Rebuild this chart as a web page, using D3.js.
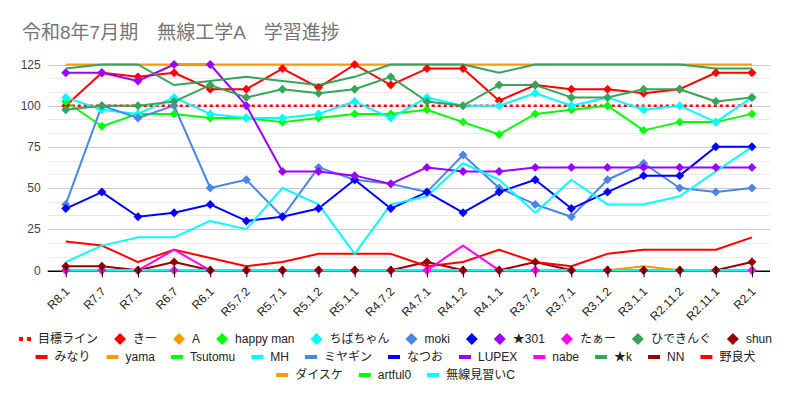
<!DOCTYPE html>
<html>
<head>
<meta charset="utf-8">
<script src="https://cdn.jsdelivr.net/npm/d3@7"></script>
<style>
    body { margin: 0; background: #fff; }
    svg { display: block; font-family: Arial, "Liberation Sans", "Noto Sans CJK JP", sans-serif; }
</style>
</head>
<body>
<script>
const WIDTH_SVG = 791;
const HEIGHT_SVG = 402;

// data
const categories = ["R8.1", "R7.7", "R7.1", "R6.7", "R6.1", "R5.7.2", "R5.7.1", "R5.1.2", "R5.1.1", "R4.7.2",
    "R4.7.1", "R4.1.2", "R4.1.1", "R3.7.2", "R3.7.1", "R3.1.2", "R3.1.1", "R2.11.2", "R2.11.1", "R2.1"];
const yTicks = [0, 25, 50, 75, 100, 125];

const target   = [100, 100, 100, 100, 100, 100, 100, 100, 100, 100, 100, 100, 100, 100, 100, 100, 100, 100, 100, 100];
const kii      = [100, 120, 117.5, 120, 110, 110, 122.5, 111, 125, 112.5, 122.5, 122.5, 103, 112.5, 110, 110, 107.5, 110, 120, 120];
const seriesA  = [0, 0, 0, 0, 0, 0, 0, 0, 0, 0, 0, 0, 0, 0, 0, 0, 0, 0, 0, 0];
const happyMan = [102.5, 87.5, 95, 95, 92.5, 92.5, 90, 92.5, 95, 95, 97.5, 90, 82.5, 95, 97.5, 100, 85, 90, 90, 95];
const chiba    = [105, 97.5, 95, 105, 95, 92.5, 92.5, 95, 102.5, 92.5, 105, 100, 100, 107.5, 100, 105, 97.5, 100, 90, 105];
const moki     = [40, 100, 92.5, 100, 50, 55, 32.5, 62.5, 55, 52.5, 47.5, 70, 50, 40, 32.5, 55, 65, 50, 47.5, 50];
const noName   = [37.5, 47.5, 32.5, 35, 40, 30, 32.5, 37.5, 55, 37.5, 47.5, 35, 47.5, 55, 37.5, 47.5, 57.5, 57.5, 75, 75];
const star301  = [120, 120, 115, 125, 125, 100, 60, 60, 57.5, 52.5, 62.5, 60, 60, 62.5, 62.5, 62.5, 62.5, 62.5, 62.5, 62.5];
const taa      = [0, 0, 0, 0, 0, 0, 0, 0, 0, 0, 0, 0, 0, 0, 0, 0, 0, 0, 0, 0];
const hideking = [97.5, 100, 100, 102.5, 112.5, 105, 110, 107.5, 110, 117.5, 102.5, 100, 112.5, 112.5, 105, 105, 110, 110, 102.5, 105];
const shun     = [2.5, 2.5, 0, 5, 0, 0, 0, 0, 0, 0, 5, 0, 0, 5, 0, 0, 0, 0, 0, 5];
const minari   = [17.5, 15, 5, 12.5, 7.5, 2.5, 5, 10, 10, 10, 2.5, 5, 12.5, 5, 2.5, 10, 12.5, 12.5, 12.5, 20];
const yama     = [125, 125, 125, 125, 125, 125, 125, 125, 125, 125, 125, 125, 125, 125, 125, 125, 125, 125, 125, 125];
const tsutomu  = [0, 0, 0, 0, 0, 0, 0, 0, 0, 0, 0, 0, 0, 0, 0, 0, 0, 0, 0, 0];
const mh       = [5, 15, 20, 20, 30, 25, 50, 40, 10, 40, 45, 65, 55, 35, 55, 40, 40, 45, 60, 75];
const miyagin  = [0, 0, 0, 0, 0, 0, 0, 0, 0, 0, 0, 0, 0, 0, 0, 0, 0, 0, 0, 0];
const natsuo   = [0, 0, 0, 0, 0, 0, 0, 0, 0, 0, 0, 0, 0, 0, 0, 0, 0, 0, 0, 0];
const lupex    = [0, 0, 0, 0, 0, 0, 0, 0, 0, 0, 0, 0, 0, 0, 0, 0, 0, 0, 0, 0];
const nabe     = [0, 0, 0, 12.5, 0, 0, 0, 0, 0, 0, 0, 15, 0, 0, 0, 0, 0, 0, 0, 0];
const starK    = [122.5, 125, 125, 112.5, 115, 117.5, 115, 112.5, 117.5, 125, 125, 125, 120, 125, 125, 125, 125, 125, 122.5, 122.5];
const nn       = [0, 0, 0, 0, 0, 0, 0, 0, 0, 0, 0, 0, 0, 0, 0, 0, 0, 0, 0, 0];
const noraInu  = [0, 0, 0, 0, 0, 0, 0, 0, 0, 0, 0, 0, 0, 0, 0, 0, 0, 0, 0, 0];
const daisuke  = [0, 0, 0, 0, 0, 0, 0, 0, 0, 0, 0, 0, 0, 0, 0, 0, 2.5, 0, 0, 0];
const artful0  = [0, 0, 0, 0, 0, 0, 0, 0, 0, 0, 0, 0, 0, 0, 0, 0, 0, 0, 0, 0];
const minaraiC = [0, 0, 0, 0, 0, 0, 0, 0, 0, 0, 0, 0, 0, 0, 0, 0, 0, 0, 0, 0];

const RED = "#ff0000", ORANGE = "#ff9900", GREEN = "#00ff00", CYAN = "#00ffff",
    CORNFLOWER = "#4a86e8", BLUE = "#0000ff", PURPLE = "#9900ff", MAGENTA = "#ff00ff",
    SEAGREEN = "#36a55a", DARKRED = "#990000";

const series = [
    { name: "目標ライン", values: target, color: RED, kind: "dot" },
    { name: "きー", values: kii, color: RED, kind: "diamond" },
    { name: "A", values: seriesA, color: ORANGE, kind: "diamond" },
    { name: "happy man", values: happyMan, color: GREEN, kind: "diamond" },
    { name: "ちばちゃん", values: chiba, color: CYAN, kind: "diamond" },
    { name: "moki", values: moki, color: CORNFLOWER, kind: "diamond" },
    { name: "", values: noName, color: BLUE, kind: "diamond" },
    { name: "★301", values: star301, color: PURPLE, kind: "diamond" },
    { name: "たぁー", values: taa, color: MAGENTA, kind: "diamond" },
    { name: "ひできんぐ", values: hideking, color: SEAGREEN, kind: "diamond" },
    { name: "shun", values: shun, color: DARKRED, kind: "diamond" },
    { name: "みなり", values: minari, color: RED, kind: "line" },
    { name: "yama", values: yama, color: ORANGE, kind: "line" },
    { name: "Tsutomu", values: tsutomu, color: GREEN, kind: "line" },
    { name: "MH", values: mh, color: CYAN, kind: "line" },
    { name: "ミヤギン", values: miyagin, color: CORNFLOWER, kind: "line" },
    { name: "なつお", values: natsuo, color: BLUE, kind: "line" },
    { name: "LUPEX", values: lupex, color: PURPLE, kind: "line" },
    { name: "nabe", values: nabe, color: MAGENTA, kind: "line" },
    { name: "★k", values: starK, color: SEAGREEN, kind: "line" },
    { name: "NN", values: nn, color: DARKRED, kind: "line" },
    { name: "野良犬", values: noraInu, color: RED, kind: "line" },
    { name: "ダイスケ", values: daisuke, color: ORANGE, kind: "line" },
    { name: "artful0", values: artful0, color: GREEN, kind: "line" },
    { name: "無線見習いC", values: minaraiC, color: CYAN, kind: "line" }
];

// layout
const PLOT_LEFT = 47.7;
const PLOT_RIGHT = 770;
const PLOT_TOP = 64.5;
const PLOT_BOTTOM = 270.3;
const LEGEND_ROWS = [11, 11, 3];
const LEGEND_Y = [339, 357, 375];
const LEGEND_CENTER = 395.5;

const svg = d3.select("body")
    .append("svg")
        .attr("width", WIDTH_SVG)
        .attr("height", HEIGHT_SVG);

svg.append("rect")
    .attr("width", WIDTH_SVG)
    .attr("height", HEIGHT_SVG)
    .attr("fill", "#fff");

// title
svg.append("text")
    .attr("x", 22)
    .attr("y", 39)
    .attr("fill", "#757575")
    .style("font-size", "19px")
    .text("令和8年7月期　無線工学A　学習進捗");

const x = d3.scalePoint()
    .domain(categories)
    .range([PLOT_LEFT, PLOT_RIGHT])
    .padding(0.5);

const y = d3.scaleLinear()
    .domain([0, 125])
    .range([PLOT_BOTTOM, PLOT_TOP]);

// grid: minor lines every third of a major step
const minorTicks = d3.range(0, 125, 25 / 3).filter(v => Math.abs(v % 25) > 0.01 && Math.abs(v % 25 - 25) > 0.01);
svg.append("g")
    .selectAll("line")
    .data(minorTicks)
    .join("line")
        .attr("x1", PLOT_LEFT)
        .attr("x2", PLOT_RIGHT)
        .attr("y1", d => Math.round(y(d)) + 0.5)
        .attr("y2", d => Math.round(y(d)) + 0.5)
        .attr("stroke", "#ebebeb");

svg.append("g")
    .selectAll("line")
    .data(yTicks.filter(d => d > 0))
    .join("line")
        .attr("x1", PLOT_LEFT)
        .attr("x2", PLOT_RIGHT)
        .attr("y1", d => Math.round(y(d)) + 0.5)
        .attr("y2", d => Math.round(y(d)) + 0.5)
        .attr("stroke", "#cccccc");

// y axis labels
const yAxis = svg.append("g")
    .attr("transform", `translate(${PLOT_LEFT - 7},0)`)
    .call(d3.axisLeft(y).tickValues(yTicks).tickSize(0).tickPadding(0));
yAxis.select(".domain").remove();
yAxis.selectAll("text")
    .attr("fill", "#444")
    .style("font-size", "12px")
    .style("font-family", "Arial, 'Liberation Sans', sans-serif");

// baseline
svg.append("line")
    .attr("x1", PLOT_LEFT)
    .attr("x2", PLOT_RIGHT)
    .attr("y1", PLOT_BOTTOM + 1)
    .attr("y2", PLOT_BOTTOM + 1)
    .attr("stroke", "#000")
    .attr("stroke-width", 1.5);

// lines
const line = d3.line()
    .x((d, i) => x(categories[i]))
    .y(d => y(d));

svg.append("g")
    .selectAll("path")
    .data(series)
    .join("path")
        .attr("d", s => line(s.values))
        .attr("fill", "none")
        .attr("stroke", s => s.color)
        .attr("stroke-width", s => s.kind === "dot" ? 2.5 : 2)
        .attr("stroke-dasharray", s => s.kind === "dot" ? "3,3" : null)
        .attr("stroke-linejoin", "round");

// markers on top of every line
const diamond = d3.symbol(d3.symbolSquare, 40);
const markerGroups = svg.append("g")
    .selectAll("g")
    .data(series.filter(s => s.kind === "diamond"))
    .join("g")
        .attr("fill", s => s.color);

markerGroups.selectAll("path")
    .data(s => s.values)
    .join("path")
        .attr("d", diamond)
        .attr("transform", (d, i) => `translate(${x(categories[i])},${y(d)}) rotate(45)`);

// x axis ticks and labels
const xAxis = svg.append("g")
    .attr("transform", `translate(0,${PLOT_BOTTOM + 1})`)
    .call(d3.axisBottom(x).tickSize(6).tickPadding(0));
xAxis.select(".domain").remove();
xAxis.selectAll(".tick line")
    .attr("y1", -5)
    .attr("stroke", "#000");
xAxis.selectAll("text")
    .attr("fill", "#222")
    .style("font-size", "12px")
    .style("font-family", "Arial, 'Liberation Sans', sans-serif")
    .attr("text-anchor", "end")
    .attr("dy", null)
    .attr("y", 0)
    .attr("transform", "translate(4,21) rotate(-45)");

// legend
const legend = svg.append("g")
    .style("font-size", "12px")
    .attr("fill", "#222");

const MARKER_W = 12;
const TEXT_GAP = 7;
const ITEM_GAP = 16;

let start = 0;
LEGEND_ROWS.forEach((count, r) => {
    const rowItems = series.slice(start, start + count);
    start += count;
    const row = legend.append("g");
    const widths = [];
    rowItems.forEach(s => {
        const item = row.append("g");
        if (s.kind === "diamond") {
            item.append("path")
                .attr("d", d3.symbol(d3.symbolSquare, 72)())
                .attr("transform", `translate(${MARKER_W / 2},0) rotate(45)`)
                .attr("fill", s.color);
        } else if (s.kind === "dot") {
            item.append("line")
                .attr("x1", 0).attr("x2", MARKER_W)
                .attr("stroke", s.color)
                .attr("stroke-width", 4)
                .attr("stroke-dasharray", "4,4");
        } else {
            item.append("rect")
                .attr("x", 0).attr("y", -2)
                .attr("width", MARKER_W).attr("height", 4)
                .attr("fill", s.color);
        }
        let w = MARKER_W;
        if (s.name) {
            const t = item.append("text")
                .attr("x", MARKER_W + TEXT_GAP)
                .attr("dy", "0.35em")
                .text(s.name);
            w += TEXT_GAP + t.node().getComputedTextLength();
        }
        widths.push({ item, w });
    });
    const total = d3.sum(widths, d => d.w) + ITEM_GAP * (widths.length - 1);
    let cx = LEGEND_CENTER - total / 2;
    widths.forEach(d => {
        d.item.attr("transform", `translate(${cx},${LEGEND_Y[r]})`);
        cx += d.w + ITEM_GAP;
    });
});
</script>
</body>
</html>
